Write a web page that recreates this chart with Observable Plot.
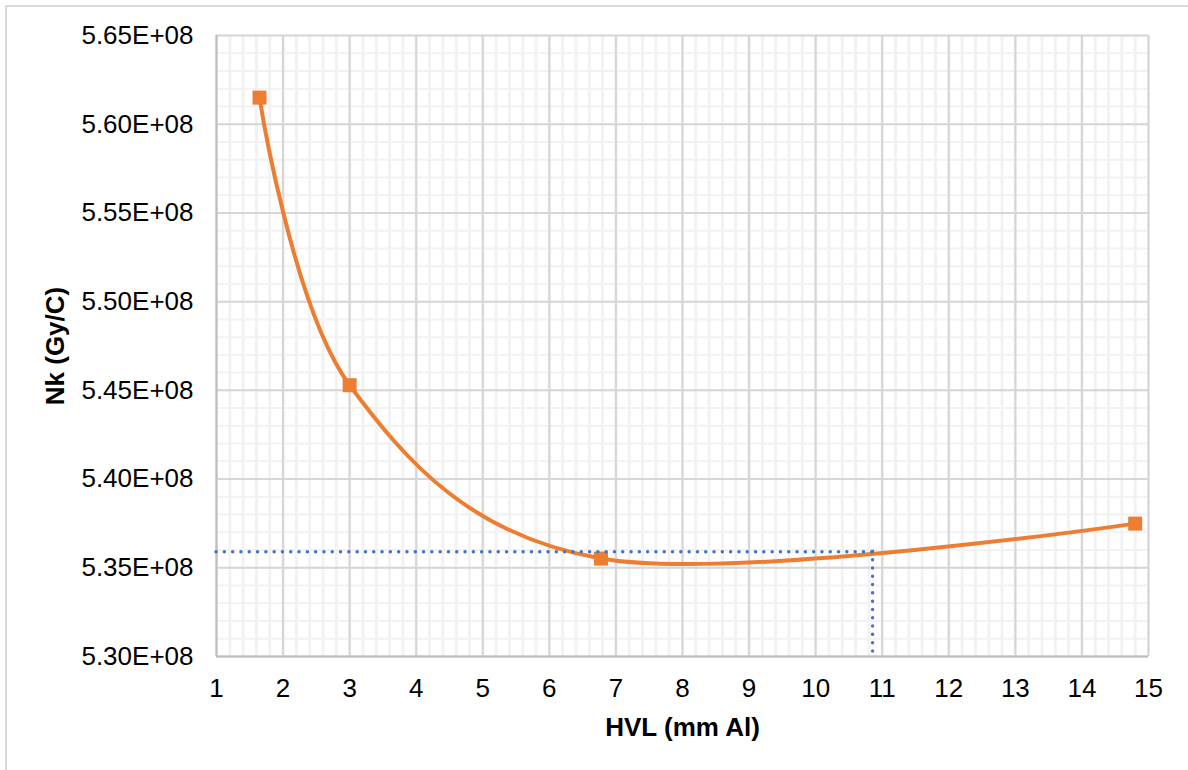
<!DOCTYPE html>
<html>
<head>
<meta charset="utf-8">
<script src="https://cdn.jsdelivr.net/npm/d3@7"></script>
<script src="https://cdn.jsdelivr.net/npm/@observablehq/plot@0.6"></script>
<style>
html, body { margin: 0; padding: 0; background: #fff; overflow: hidden; }
#wrap { position: relative; width: 1188px; height: 770px; }
#border { position: absolute; left: 5px; top: 5px; width: 1400px; height: 1000px;
  border-left: 2px solid #d9d9d9; border-top: 2px solid #d9d9d9; pointer-events: none; }
</style>
</head>
<body>
<div id="wrap"><div id="border"></div></div>
<script>
// Data
const hvl = [1.646, 3.0, 6.776, 14.80];          // HVL (mm Al)
const nk  = [5.615e8, 5.4529e8, 5.3552e8, 5.3749e8]; // Nk (Gy/C)
const refHVL = 10.855;
const refNk = 5.359e8;

// Ticks
const xTicks = [1, 2, 3, 4, 5, 6, 7, 8, 9, 10, 11, 12, 13, 14, 15];
const yTicks = [5.30e8, 5.35e8, 5.40e8, 5.45e8, 5.50e8, 5.55e8, 5.60e8, 5.65e8];
const yTickLabels = ["5.30E+08", "5.35E+08", "5.40E+08", "5.45E+08", "5.50E+08", "5.55E+08", "5.60E+08", "5.65E+08"];
const xMinor = d3.range(0, 71).map(i => 1 + i * 0.2);
const yMinor = d3.range(0, 36).map(i => 5.30e8 + i * 0.01e8);

const xTitle = "HVL (mm Al)";
const yTitle = "Nk (Gy/C)";

const data = hvl.map((x, i) => ({x, y: nk[i]}));

const chart = Plot.plot({
  width: 1188,
  height: 770,
  marginLeft: 216,
  marginRight: 40,
  marginTop: 35,
  marginBottom: 114,
  style: {fontFamily: "'Liberation Sans', Arial, sans-serif", fontSize: "26px", color: "#000", background: "transparent"},
  x: {domain: [1, 15], ticks: xTicks, tickSize: 0, tickPadding: 22, label: null},
  y: {domain: [5.30e8, 5.65e8], ticks: yTicks, tickSize: 0, tickPadding: 23, label: null,
      tickFormat: (d, i) => yTickLabels[i]},
  marks: [
    Plot.ruleX(xMinor, {stroke: "#f2f2f2", strokeWidth: 3}),
    Plot.ruleY(yMinor, {stroke: "#f2f2f2", strokeWidth: 2}),
    Plot.ruleX(xTicks, {stroke: "#d6d6d6", strokeWidth: 2}),
    Plot.ruleY(yTicks, {stroke: "#d6d6d6", strokeWidth: 2}),
    Plot.ruleX([xTicks[0]], {stroke: "#bfbfbf", strokeWidth: 2}),
    Plot.ruleY([yTicks[0]], {stroke: "#bfbfbf", strokeWidth: 2}),
    Plot.line(data, {x: "x", y: "y", curve: "cardinal", stroke: "#ED7D31", strokeWidth: 4}),
    Plot.dot(data, {x: "x", y: "y", symbol: "square", r: 7.9, fill: "#ED7D31"}),
    Plot.ruleY([refNk], {x1: xTicks[0], x2: refHVL, stroke: "#4472C4", strokeWidth: 3.4, strokeLinecap: "round", strokeDasharray: "0.1 8.2"}),
    Plot.ruleX([refHVL], {y1: refNk, y2: yTicks[0], stroke: "#4472C4", strokeWidth: 3.4, strokeLinecap: "round", strokeDasharray: "0.1 8.2"}),
    Plot.text([xTitle], {text: d => d, frameAnchor: "bottom", textAnchor: "middle", lineAnchor: "middle", dy: 71, fontWeight: "bold", fontSize: 26, fill: "#000"}),
    Plot.text([yTitle], {text: d => d, frameAnchor: "left", textAnchor: "middle", lineAnchor: "middle", dx: -161, dy: 0, rotate: -90, fontWeight: "bold", fontSize: 26, fill: "#000"})
  ]
});
document.getElementById("wrap").appendChild(chart);
</script>
</body>
</html>
